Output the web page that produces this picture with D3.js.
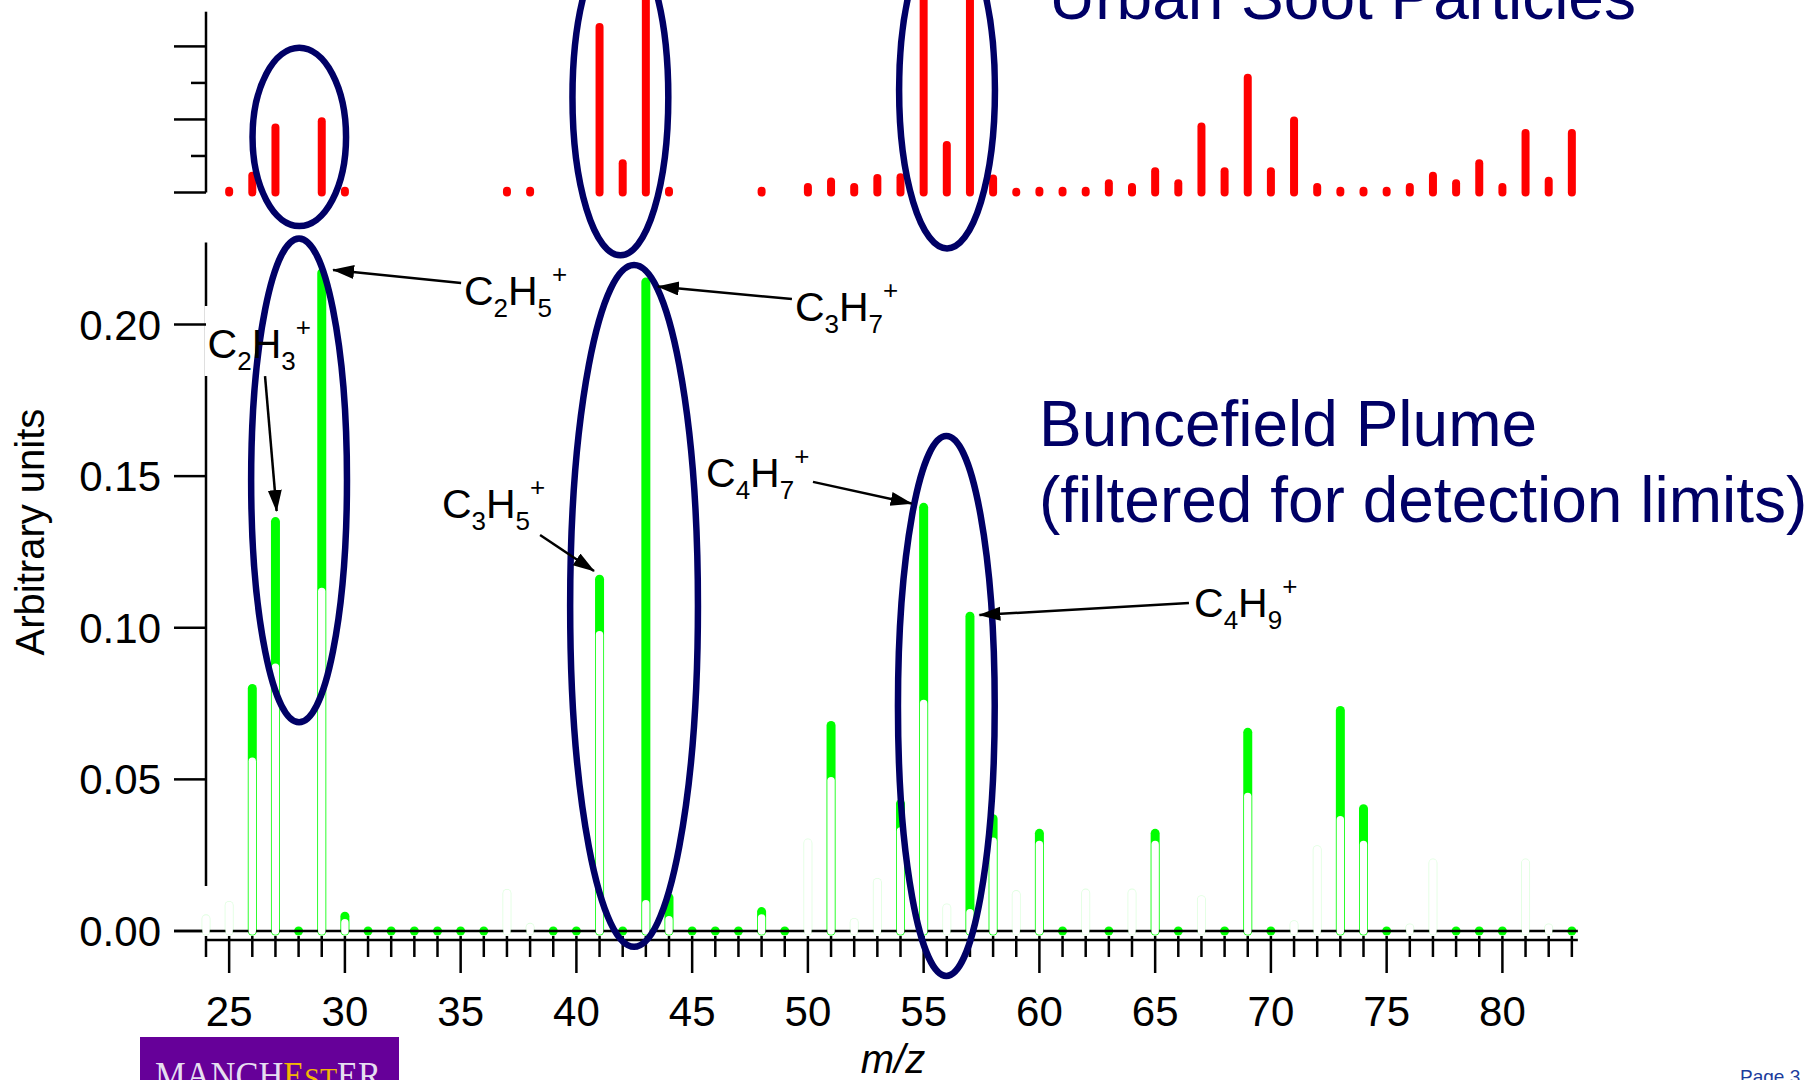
<!DOCTYPE html>
<html>
<head>
<meta charset="utf-8">
<script src="https://cdn.jsdelivr.net/npm/d3@7"></script>
<style>
body { margin: 0; background: #fff; }
svg { display: block; font-family: "Liberation Sans", Arial, sans-serif; }
</style>
</head>
<body>
<svg id="chart" width="1815" height="1080"></svg>
<script>
// m/z channels
var mz = [24, 25, 26, 27, 28, 29, 30, 31, 32, 33, 34, 35, 36, 37, 38, 39, 40, 41, 42, 43,
  44, 45, 46, 47, 48, 49, 50, 51, 52, 53, 54, 55, 56, 57, 58, 59, 60, 61, 62, 63,
  64, 65, 66, 67, 68, 69, 70, 71, 72, 73, 74, 75, 76, 77, 78, 79, 80, 81, 82, 83];

// Buncefield plume (green), null = hidden below detection limit
var buncefield = [null, null, 0.080, 0.135, 0, 0.217, 0.0049, 0, 0, 0, 0, 0, 0, null, null, 0, 0, 0.116, 0, 0.214,
  0.011, 0, 0, 0, 0.0064, 0, null, 0.0678, null, null, 0.042, 0.1397, null, 0.1038, 0.037, null, 0.0322, 0, null, 0,
  null, 0.0322, 0, null, 0, 0.0655, 0, null, null, 0.0727, 0.0403, 0, null, null, 0, 0, 0, null, null, 0];

// detection limits (white bars)
var detectionLimit = [0.004, 0.0084, 0.056, 0.087, 0, 0.112, 0.0027, 0, 0, 0, 0, 0, 0, 0.0124, 0.0012, 0, 0, 0.0977, 0, 0.009,
  0.0037, 0, 0, 0, 0.0043, 0, 0.029, 0.0496, 0.0028, 0.016, 0.033, 0.075, 0.0076, 0.006, 0.0296, 0.012, 0.0285, 0, 0.0125, 0,
  0.0125, 0.0285, 0, 0.0103, 0, 0.0444, 0, 0.0021, 0.0268, 0.0367, 0.0285, 0, 0.001, 0.0224, 0, 0, 0, 0.0224, 0.001, 0];

// urban soot particles (red), in tick units of the upper axis
var urbanSoot = [null, 0.05, 0.46, 1.78, null, 1.95, 0.05, null, null, null, null, null, null, 0.05, 0.05, null, null, 4.53, 0.80, 6.5,
  0.05, null, null, null, 0.05, null, 0.15, 0.3, 0.15, 0.4, 0.42, 6.2, 1.3, 6.0, 0.38, 0.02, 0.05, 0.05, 0.05, 0.25,
  0.15, 0.58, 0.25, 1.81, 0.58, 3.14, 0.58, 1.97, 0.15, 0.05, 0.05, 0.05, 0.15, 0.46, 0.25, 0.8, 0.15, 1.63, 0.32, 1.63];

var xTicks = [25, 30, 35, 40, 45, 50, 55, 60, 65, 70, 75, 80];
var yTicks = [0, 0.05, 0.10, 0.15, 0.20];
var sootTicks = [0, 1, 2, 3, 4];

// ion labels: text at (tx,ty), arrow from (ax,ay) to (bx,by), in data units
var ionLabels = ["C2H5+", "C2H3+", "C3H5+", "C3H7+", "C4H7+", "C4H9+"];
var ionText = [[35.14, 0.2064], [24.07, 0.189], [34.19, 0.1362], [49.44, 0.2012], [45.6, 0.1464], [66.68, 0.1035]];
var ionFrom = [[35.02, 0.2137], [26.55, 0.183], [38.43, 0.1306], [49.31, 0.2084], [50.22, 0.1481], [66.46, 0.1082]];
var ionTo = [[29.49, 0.2180], [27.05, 0.1385], [40.76, 0.1187], [43.52, 0.2125], [54.48, 0.141], [57.41, 0.1042]];

// highlight ellipses: [m/z centre, value centre, m/z radius, value radius]
var sootRings = [[28.03, 1.52, 2.02, 2.44], [41.9, 2.61, 2.07, 4.33], [56.01, 2.81, 2.07, 4.34]];
var plumeRings = [[28.02, 0.1486, 2.07, 0.0798], [42.49, 0.1072, 2.76, 0.1124], [55.98, 0.0742, 2.09, 0.089]];

var svg = d3.select("#chart");
var navy = "#000066";

var x = d3.scaleLinear().domain([24, 83]).range([206, 1571.85]);
var y = d3.scaleLinear().domain([0, 0.20]).range([931, 324.5]);
var ys = d3.scaleLinear().domain([0, 4]).range([192.5, 46.4]);

svg.append("rect").attr("width", 1815).attr("height", 1080).attr("fill", "#fff");

// titles
svg.append("text").attr("x", 1049).attr("y", 19).text("Urban Soot Particles")
  .style("font-size", "64px").attr("fill", navy);
svg.append("text").attr("x", 1039).attr("y", 446).text("Buncefield Plume")
  .style("font-size", "64px").attr("fill", navy);
svg.append("text").attr("x", 1039).attr("y", 522).text("(filtered for detection limits)")
  .style("font-size", "64px").attr("fill", navy);

// ---- upper panel: urban soot
svg.append("line").attr("x1", x(24)).attr("x2", x(24))
  .attr("y1", ys(4.95)).attr("y2", ys(0))
  .attr("stroke", "#000").attr("stroke-width", 2.5);
svg.selectAll(".stick").data(sootTicks).enter().append("line")
  .attr("x1", d => d % 2 == 0 ? x(24) - 32 : x(24) - 15).attr("x2", x(24))
  .attr("y1", d => ys(d)).attr("y2", d => ys(d))
  .attr("stroke", "#000").attr("stroke-width", 2.5);

var soot = mz.map((m, i) => [m, urbanSoot[i]]).filter(d => d[1] != null);
svg.selectAll(".soot").data(soot).enter().append("line")
  .attr("x1", d => x(d[0])).attr("x2", d => x(d[0]))
  .attr("y1", ys(0)).attr("y2", d => ys(d[1]))
  .attr("stroke", "#ff0000").attr("stroke-width", 8).attr("stroke-linecap", "round");

// ---- lower panel: plume
svg.append("line").attr("x1", x(24)).attr("x2", x(24))
  .attr("y1", y(0.227)).attr("y2", y(0.0148))
  .attr("stroke", "#000").attr("stroke-width", 2.5);
// white box behind the C2H3+ label hides the axis
svg.append("rect").attr("x", x(24) - 1.5).attr("y", 306).attr("width", 46).attr("height", 70).attr("fill", "#fff");

svg.selectAll(".ytick").data(yTicks).enter().append("line")
  .attr("x1", x(24) - 32).attr("x2", x(24))
  .attr("y1", d => y(d)).attr("y2", d => y(d))
  .attr("stroke", "#000").attr("stroke-width", 2.5);
svg.selectAll(".ylab").data(yTicks).enter().append("text")
  .attr("x", 161).attr("y", d => y(d) + 15)
  .attr("text-anchor", "end").style("font-size", "42px")
  .text(d => d3.format(".2f")(d));

svg.append("text").attr("transform", "translate(44," + 532 + ") rotate(-90)")
  .attr("text-anchor", "middle").style("font-size", "40px").text("Arbitrary units");

var plume = mz.map((m, i) => [m, buncefield[i]]).filter(d => d[1] != null);
svg.selectAll(".plume").data(plume).enter().append("line")
  .attr("x1", d => x(d[0])).attr("x2", d => x(d[0]))
  .attr("y1", y(0)).attr("y2", d => y(d[1]))
  .attr("stroke", "#00ff00").attr("stroke-width", 9).attr("stroke-linecap", "round");

// zero line
svg.append("line").attr("x1", x(24) - 32).attr("x2", x(83) + 6)
  .attr("y1", y(0)).attr("y2", y(0))
  .attr("stroke", "#000").attr("stroke-width", 2.5);

var limits = mz.map((m, i) => [m, detectionLimit[i]]).filter(d => d[1] > 0);
svg.selectAll(".limEdge").data(limits).enter().append("line")
  .attr("x1", d => x(d[0])).attr("x2", d => x(d[0]))
  .attr("y1", y(0)).attr("y2", d => y(d[1]))
  .attr("stroke", "#00ff00").attr("stroke-opacity", 0.13)
  .attr("stroke-width", 9).attr("stroke-linecap", "round");
svg.selectAll(".lim").data(limits).enter().append("line")
  .attr("x1", d => x(d[0])).attr("x2", d => x(d[0]))
  .attr("y1", y(0)).attr("y2", d => y(d[1]))
  .attr("stroke", "#fff").attr("stroke-width", 7.4).attr("stroke-linecap", "round");

// x axis
var axisY = 940;
svg.append("line").attr("x1", x(24)).attr("x2", x(83) + 6)
  .attr("y1", axisY).attr("y2", axisY)
  .attr("stroke", "#000").attr("stroke-width", 2.5);
svg.selectAll(".xtick").data(mz).enter().append("line")
  .attr("x1", d => x(d)).attr("x2", d => x(d))
  .attr("y1", axisY - 4).attr("y2", d => d % 5 == 0 ? axisY + 33 : axisY + 17)
  .attr("stroke", "#000").attr("stroke-width", 2.5);
svg.selectAll(".xlab").data(xTicks).enter().append("text")
  .attr("x", d => x(d)).attr("y", 1026)
  .attr("text-anchor", "middle").style("font-size", "42px").text(d => d);
svg.append("text").attr("x", 893).attr("y", 1073).attr("text-anchor", "middle")
  .style("font-size", "40px").style("font-style", "italic").text("m/z");

// ellipses
svg.selectAll(".sring").data(sootRings).enter().append("ellipse")
  .attr("cx", d => x(d[0])).attr("cy", d => ys(d[1]))
  .attr("rx", d => x(d[0] + d[2]) - x(d[0])).attr("ry", d => ys(0) - ys(d[3]))
  .attr("fill", "none").attr("stroke", navy).attr("stroke-width", 6.5);
svg.selectAll(".pring").data(plumeRings).enter().append("ellipse")
  .attr("cx", d => x(d[0])).attr("cy", d => y(d[1]))
  .attr("rx", d => x(d[0] + d[2]) - x(d[0])).attr("ry", d => y(0) - y(d[3]))
  .attr("fill", "none").attr("stroke", navy).attr("stroke-width", 6.5);

// ion annotations
svg.append("defs").append("marker").attr("id", "head")
  .attr("markerUnits", "userSpaceOnUse").attr("markerWidth", 24).attr("markerHeight", 16)
  .attr("refX", 21).attr("refY", 7).attr("orient", "auto")
  .append("path").attr("d", "M0,0 L22,7 L0,14 Z").attr("fill", "#000");

ionLabels.forEach(function(lab, i) {
  svg.append("line")
    .attr("x1", x(ionFrom[i][0])).attr("y1", y(ionFrom[i][1]))
    .attr("x2", x(ionTo[i][0])).attr("y2", y(ionTo[i][1]))
    .attr("stroke", "#000").attr("stroke-width", 2.5).attr("marker-end", "url(#head)");
  var t = svg.append("text").attr("x", x(ionText[i][0])).attr("y", y(ionText[i][1]))
    .style("font-size", "41px");
  var shift = 0;
  lab.split("").forEach(function(ch) {
    var off = /[0-9]/.test(ch) ? 12 : (ch == "+" ? -22 : 0);
    var ts = t.append("tspan").attr("dy", off - shift).text(ch);
    if (off != 0) ts.style("font-size", "26px");
    shift = off;
  });
});

// footer: logo and page number
svg.append("rect").attr("x", 140).attr("y", 1037).attr("width", 259).attr("height", 50).attr("fill", "#660099");
var logo = svg.append("text").attr("x", 155).attr("y", 1088)
  .attr("textLength", 226).attr("lengthAdjust", "spacingAndGlyphs")
  .style("font-family", "'Liberation Serif', serif").style("font-size", "37px").attr("fill", "#e6def0");
logo.append("tspan").text("MANCH");
logo.append("tspan").attr("fill", "#f2b705").text("E");
logo.append("tspan").attr("fill", "#f2b705").style("font-size", "30px").text("ST");
logo.append("tspan").text("ER");

svg.append("text").attr("x", 1740).attr("y", 1083).style("font-size", "19px")
  .attr("fill", "#1c3c9c").text("Page 3");
</script>
</body>
</html>
